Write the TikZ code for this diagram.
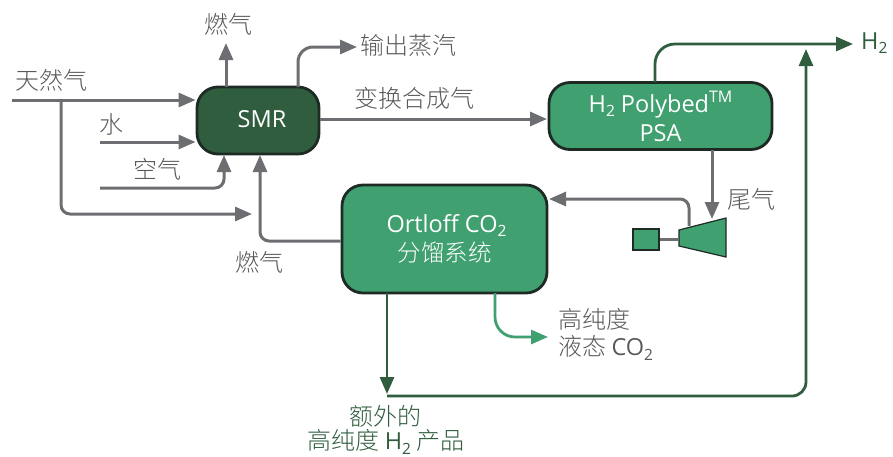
\documentclass[tikz,border=0pt]{standalone}
\usepackage{fontspec}
\setmainfont{Open Sans}
\newfontfamily\cjk{Noto Sans CJK SC Light}
\usetikzlibrary{arrows.meta,calc}
\definecolor{gline}{HTML}{6D6E71}
\definecolor{gtext}{HTML}{58595B}
\definecolor{dgreen}{HTML}{2F5D3E}
\definecolor{mgreen}{HTML}{40A070}
\definecolor{edge}{HTML}{1E2A24}
\newcommand{\subtwo}{\raisebox{-0.18em}{\scalebox{0.66}{2}}}
\tikzset{
  x=1pt,y=-1pt,
  flow/.style={line width=3pt,draw=gline,rounded corners=9pt,-{Triangle[length=17pt,width=14pt]}},
  plain/.style={line width=3pt,draw=gline},
  dflow/.style={flow,draw=dgreen,line width=2.8pt},
  lflow/.style={flow,draw=mgreen,line width=2.8pt},
  unit/.style={draw=edge,line width=2.8pt,rounded corners=21pt,text=white,align=center,font=\fontsize{23.5}{29}\selectfont,inner sep=0pt},
  lbl/.style={text=gtext,font=\cjk\fontsize{24}{29}\selectfont,inner sep=0pt},
  glbl/.style={lbl,text=dgreen},
}
\begin{document}
\begin{tikzpicture}
\useasboundingbox (0,0) rectangle (893,456);
\node[unit,fill=dgreen,minimum width=122pt,minimum height=67pt] (smr) at (258,120.5) {\hspace{8pt}\raisebox{3pt}{SMR}};
\node[unit,fill=mgreen,minimum width=223pt,minimum height=67pt] (psa) at (660.5,116) {H\subtwo{} Polybed\raisebox{0.42em}{\scalebox{0.68}{TM}}\\PSA};
\node[unit,fill=mgreen,minimum width=205pt,minimum height=108pt] (ort) at (444.5,239) {\hspace{4pt}Ortloff CO\subtwo\\{\cjk 分馏系统}};
\node[draw=edge,line width=1.2pt,fill=mgreen,minimum width=26pt,minimum height=21pt,inner sep=0pt] (gen) at (646,239.5) {};
\path[draw=edge,line width=1.2pt,fill=mgreen] (679,230) coordinate (tbl) -- (726,218) coordinate (tbt) -- (726,257) -- (679,246) coordinate (tbb) -- cycle;
\coordinate (turbL) at (679,239.5);
\draw[plain,line width=2.4pt] (gen) -- (turbL);

% free ends
\coordinate (ngS) at (12,100);
\coordinate (ngJ) at (61,100);
\coordinate (waterS) at (100,142);
\coordinate (airS) at (100,188);
\coordinate (bypE) at (252,214);
\coordinate (fuelT) at (226,43);
\coordinate (steamE) at (357,47);
\coordinate (h2E) at (853,44);
\coordinate (h2S) at (655,44);
\coordinate (psaD) at (712,219);
\coordinate (tailS) at (689,226);
\coordinate (extraE) at (387,394);
\coordinate (extraS) at (387,396);
\coordinate (co2E) at (548,337);

\draw[flow] (ngS) -- (smr.west |- ngS);
\draw[flow] (waterS) -- (smr.west |- waterS);
\draw[flow] (airS) -- (224,188) -- (224,155);
\draw[flow] (ngJ) -- (61,214) -- (bypE);
\draw[flow] (ort.west |- 0,241) -- (260,241) -- (260,155);
\draw[flow] (fuelT -| 226,0) ++(0,44) -- (fuelT);
\draw[flow,rounded corners=15pt] (298,87) -- (298,47) -- (steamE);
\draw[flow] (smr.east) ++(0,-1.5) -- (547,119);
\draw[flow] (712,150) -- (psaD);
\draw[flow] (tailS) -- (689,199) -- (549,199);
\draw[dflow,rounded corners=20pt] (655,82) -- (h2S) -- (h2E);
\draw[dflow] (387,293) -- (extraE);
\draw[dflow,rounded corners=14pt] (extraS) -- (806,396) -- (806,49);
\draw[lflow,rounded corners=20pt] (495,293) -- (495,337) -- (co2E);

\node[lbl] (t1) at (228,24) {燃气};
\node[lbl] (t2) at (52,80) {天然气};
\node[lbl] (t3) at (111,124) {水};
\node[lbl] (t4) at (157,169) {空气};
\node[lbl] (t5) at (259,262) {燃气};
\node[lbl,anchor=west] (t6) at (360,45) {输出蒸汽};
\node[lbl,anchor=west] (t7) at (354,98) {变换合成气};
\node[lbl] (t8) at (751,199) {尾气};
\node[lbl,anchor=west] (t9) at (558,319) {高纯度};
\node[lbl,anchor=west] (t10) at (558,348) {液态 {\fontspec{Open Sans}\fontsize{23.5}{29}\selectfont CO\subtwo}};
\node[glbl] (t11) at (385,416) {额外的};
\node[glbl] (t12) at (386,442) {高纯度 {\fontspec{Open Sans}\fontsize{23.5}{29}\selectfont H\subtwo} 产品};
\node[glbl,anchor=west,font=\fontsize{23.5}{29}\selectfont] (t13) at (861,43) {H\subtwo};
\end{tikzpicture}
\end{document}
